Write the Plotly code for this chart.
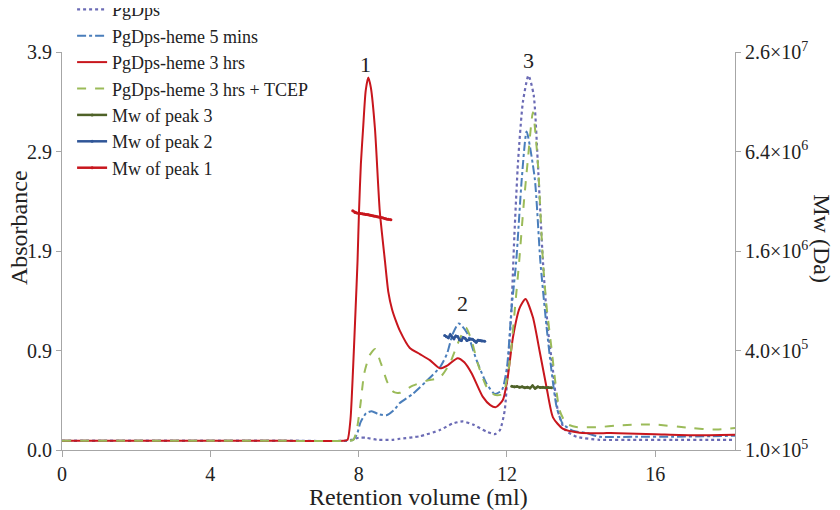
import plotly.graph_objects as go

# ---------------- data ----------------
pg_x = [0, 2, 4, 6, 7.6, 7.8, 8.0, 8.2, 8.5, 8.9, 9.11, 9.65, 10.19, 10.54, 10.81, 11.08, 11.45, 11.67,
        11.81, 11.94, 12.02, 12.12, 12.2, 12.3, 12.43, 12.58, 12.72, 12.83, 12.97, 13.1, 13.24, 13.37,
        13.56, 13.88, 14.5, 15.5, 16.5, 17.5, 18.15]
pg_y = [0.09, 0.09, 0.09, 0.09, 0.09, 0.1, 0.12, 0.12, 0.1, 0.1, 0.11, 0.135, 0.195, 0.26, 0.28, 0.25,
        0.18, 0.155, 0.195, 0.39, 0.78, 1.37, 2.1, 2.83, 3.41, 3.67, 3.48, 2.83, 1.85, 1.2, 0.78, 0.39,
        0.2, 0.13, 0.1, 0.1, 0.1, 0.1, 0.1]

h5_x = [0, 2, 4, 6, 7.7, 7.85, 7.95, 8.05, 8.2, 8.35, 8.55, 8.75, 8.95, 9.11, 9.46, 9.84, 10.19, 10.38,
        10.54, 10.7, 10.92, 11.18, 11.45, 11.67, 11.86, 12.0, 12.12, 12.25, 12.4, 12.53, 12.75, 12.9,
        13.07, 13.2, 13.34, 13.5, 13.77, 14.15, 14.5, 15.5, 16.5, 17.5, 18.15]
h5_y = [0.09, 0.09, 0.09, 0.09, 0.09, 0.1, 0.15, 0.27, 0.36, 0.38, 0.35, 0.34, 0.39, 0.46, 0.55, 0.68,
        0.81, 0.94, 1.14, 1.24, 1.15, 0.88, 0.65, 0.55, 0.585, 0.81, 1.37, 1.85, 2.66, 3.12, 2.66, 1.85,
        1.2, 0.78, 0.42, 0.26, 0.19, 0.165, 0.13, 0.13, 0.13, 0.135, 0.14]

h3_x = [0, 2, 4, 6, 7.6, 7.7, 7.78, 7.85, 7.92, 7.97, 8.01, 8.06, 8.12, 8.19, 8.26, 8.33, 8.44, 8.57,
        8.71, 8.8, 8.9, 9.0, 9.11, 9.38, 9.65, 9.92, 10.19, 10.4, 10.67, 10.85, 11.05, 11.35, 11.55,
        11.7, 11.89, 12.02, 12.16, 12.34, 12.5, 12.7, 12.88, 13.07, 13.24, 13.5, 13.96, 15.0, 16.0,
        17.0, 18.15]
h3_y = [0.09, 0.09, 0.09, 0.09, 0.09, 0.1, 0.3, 0.8, 1.4, 1.85, 2.34, 2.8, 3.15, 3.52, 3.65, 3.55, 3.15,
        2.34, 1.85, 1.55, 1.38, 1.27, 1.17, 1.0, 0.94, 0.88, 0.8, 0.83, 0.9, 0.86, 0.75, 0.52, 0.44,
        0.42, 0.49, 0.71, 1.1, 1.39, 1.48, 1.3, 0.97, 0.61, 0.32, 0.21, 0.17, 0.165, 0.155, 0.145,
        0.15]

tc_x = [0, 2, 4, 6, 7.75, 7.86, 7.95, 8.05, 8.15, 8.3, 8.44, 8.6, 8.78, 8.94, 9.11, 9.46, 9.84, 10.19,
        10.46, 10.67, 10.89, 11.05, 11.21, 11.45, 11.67, 11.89, 12.08, 12.21, 12.33, 12.45, 12.56, 12.7,
        12.83, 12.97, 13.07, 13.2, 13.29, 13.42, 13.6, 13.87, 14.5, 14.96, 15.93, 17.0, 17.55, 18.15]
tc_y = [0.09, 0.09, 0.09, 0.09, 0.09, 0.1, 0.2, 0.45, 0.75, 0.93, 0.99, 0.85, 0.66, 0.57, 0.56, 0.63, 0.68,
        0.71, 0.85, 1.04, 1.2, 1.07, 0.85, 0.62, 0.54, 0.55, 0.88, 1.37, 1.85, 2.4, 2.83, 3.31, 2.83,
        1.85, 1.4, 1.0, 0.71, 0.39, 0.26, 0.225, 0.225, 0.24, 0.25, 0.215, 0.2, 0.215]

mw3_x = [12.13, 12.2, 12.27, 12.34, 12.41, 12.48, 12.55, 12.62, 12.69, 12.76, 12.83, 12.9, 12.97,
         13.04, 13.11, 13.2]
mw3_y = [2.43e5, 2.41e5, 2.42e5, 2.40e5, 2.41e5, 2.38e5, 2.40e5, 2.37e5, 2.45e5, 2.36e5, 2.41e5,
         2.39e5, 2.40e5, 2.38e5, 2.39e5, 2.38e5]

mw2_x = [10.32, 10.37, 10.42, 10.47, 10.52, 10.57, 10.62, 10.67, 10.72, 10.77, 10.82, 10.87, 10.92,
         10.97, 11.02, 11.07, 11.12, 11.17, 11.22, 11.27, 11.32, 11.4]
mw2_y = [4.93e5, 4.85e5, 4.77e5, 4.99e5, 4.82e5, 4.71e5, 4.90e5, 4.86e5, 4.65e5, 4.59e5, 4.80e5,
         4.75e5, 4.60e5, 4.64e5, 4.70e5, 4.68e5, 4.58e5, 4.49e5, 4.62e5, 4.59e5, 4.57e5, 4.55e5]

mw1_x = [7.84, 7.9, 7.95, 8.0, 8.05, 8.1, 8.15, 8.2, 8.25, 8.3, 8.35, 8.4, 8.45, 8.5, 8.55, 8.6, 8.65,
         8.7, 8.75, 8.8, 8.87]
mw1_y = [2.80e6, 2.74e6, 2.72e6, 2.71e6, 2.70e6, 2.69e6, 2.68e6, 2.66e6, 2.66e6, 2.64e6, 2.62e6,
         2.61e6, 2.60e6, 2.58e6, 2.57e6, 2.55e6, 2.54e6, 2.52e6, 2.50e6, 2.49e6, 2.47e6]

abs_tickvals = [0, 0.975, 1.95, 2.925, 3.9]
abs_ticktext = ["0.0", "0.9", "1.9", "2.9", "3.9"]
mw_tickvals = [1e5, 4e5, 1.6e6, 6.4e6, 2.56e7]
mw_ticktext = ["1.0×10<sup>5</sup>", "4.0×10<sup>5</sup>", "1.6×10<sup>6</sup>",
               "6.4×10<sup>6</sup>", "2.6×10<sup>7</sup>"]
x_tickvals = [0, 4, 8, 12, 16]

peak_labels = ["1", "2", "3"]
peak_label_x = [8.19, 10.8, 12.59]
peak_label_y = [3.78, 1.44, 3.82]

# ---------------- figure ----------------
FONT = "Liberation Serif, Times New Roman, serif"
RED = "#C8161D"
PURPLE = "#6B6BB5"
BLUE = "#4A7EBB"
GREEN = "#9BBB59"
DKGREEN = "#4F6228"
DKBLUE = "#2F5597"

fig = go.Figure()
sp = dict(shape="spline", smoothing=0.6)
fig.add_trace(go.Scatter(x=pg_x, y=pg_y, name="PgDps", mode="lines",
                         line=dict(color=PURPLE, width=2.2, dash="dot", **sp)))
fig.add_trace(go.Scatter(x=h5_x, y=h5_y, name="PgDps-heme 5 mins", mode="lines",
                         line=dict(color=BLUE, width=2, dash="dashdot", **sp)))
fig.add_trace(go.Scatter(x=h3_x, y=h3_y, name="PgDps-heme 3 hrs", mode="lines",
                         line=dict(color=RED, width=2, **sp)))
fig.add_trace(go.Scatter(x=tc_x, y=tc_y, name="PgDps-heme 3 hrs + TCEP", mode="lines",
                         line=dict(color=GREEN, width=2, dash="dash", **sp)))
fig.add_trace(go.Scatter(x=mw3_x, y=mw3_y, name="Mw of peak 3", mode="lines+markers", yaxis="y2",
                         line=dict(color=DKGREEN, width=2.5), marker=dict(size=3, color=DKGREEN)))
fig.add_trace(go.Scatter(x=mw2_x, y=mw2_y, name="Mw of peak 2", mode="lines+markers", yaxis="y2",
                         line=dict(color=DKBLUE, width=2.5), marker=dict(size=3, color=DKBLUE)))
fig.add_trace(go.Scatter(x=mw1_x, y=mw1_y, name="Mw of peak 1", mode="lines+markers", yaxis="y2",
                         line=dict(color=RED, width=2.5), marker=dict(size=3, color=RED)))

axis_common = dict(showline=True, linecolor="#A6A6A6", linewidth=1, ticks="outside",
                   tickcolor="#A6A6A6", showgrid=False, zeroline=False, automargin=False,
                   tickfont=dict(family=FONT, size=20, color="#222"))

# the page body adds an 8px offset, so margins are compensated
fig.update_layout(
    width=840, height=510,
    margin=dict(l=54, r=113, t=44, b=68, autoexpand=False),
    paper_bgcolor="white", plot_bgcolor="white",
    font=dict(family=FONT, size=20, color="#222"),
    xaxis=dict(range=[0, 18.15], tickvals=x_tickvals, ticklen=6, **axis_common),
    yaxis=dict(range=[0, 3.9], tickvals=abs_tickvals, ticktext=abs_ticktext, ticklen=5,
               **axis_common),
    yaxis2=dict(type="log", range=[5, 7.40824], overlaying="y", side="right",
                tickvals=mw_tickvals, ticktext=mw_ticktext, ticklen=5, **axis_common),
    legend=dict(x=0.015, y=1.153, xanchor="left", yanchor="top", bgcolor="rgba(0,0,0,0)",
                font=dict(family=FONT, size=18, color="#222"), tracegroupgap=0),
    showlegend=True,
)

for t, xx, yy in zip(peak_labels, peak_label_x, peak_label_y):
    fig.add_annotation(x=xx, y=yy, xref="x", yref="y", text=t, showarrow=False,
                       font=dict(family=FONT, size=22, color="#222"))

fig.add_annotation(x=-0.064, y=0.56, xref="paper", yref="paper", text="Absorbance",
                   xanchor="center", yanchor="middle",
                   textangle=-90, showarrow=False, font=dict(family=FONT, size=24, color="#222"))
fig.add_annotation(x=1.129, y=0.53, xref="paper", yref="paper", text="Mw (Da)",
                   xanchor="center", yanchor="middle",
                   textangle=90, showarrow=False, font=dict(family=FONT, size=24, color="#222"))
fig.add_annotation(x=0.53, y=-0.118, xref="paper", yref="paper", text="Retention volume (ml)",
                   xanchor="center", yanchor="middle",
                   showarrow=False, font=dict(family=FONT, size=24, color="#222"))

fig.write_html("out.html")
